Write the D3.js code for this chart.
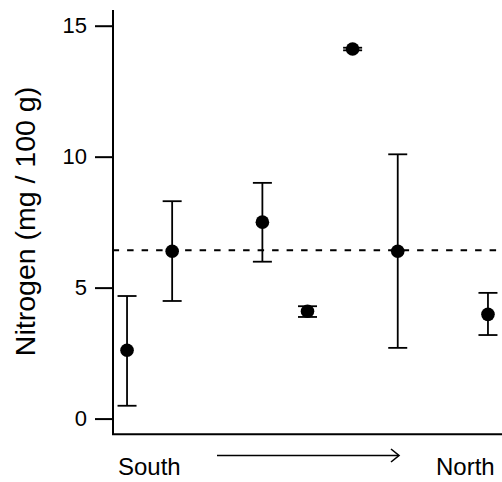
<!DOCTYPE html>
<html>
<head>
<meta charset="utf-8">
<script src="https://cdn.jsdelivr.net/npm/d3@7"></script>
<style>
  html, body { margin: 0; padding: 0; background: #fff; }
  svg { display: block; font-family: "Liberation Sans", Arial, Helvetica, sans-serif; }
</style>
</head>
<body>
<svg id="chart" width="502" height="482"></svg>
<script>
// Data
const sites = [1, 2, 4, 5, 6, 7, 9];
const means = [2.61, 6.39, 7.50, 4.10, 14.11, 6.39, 3.98];
const lower = [0.49, 4.49, 5.99, 3.88, 14.06, 2.70, 3.19];
const upper = [4.68, 8.30, 9.00, 4.29, 14.16, 10.09, 4.80];
const refValue = 6.43;
const yTicks = [0, 5, 10, 15];
const yLabel = "Nitrogen (mg / 100 g)";
const xLeftLabel = "South";
const xRightLabel = "North";

const svg = d3.select("#chart");

const x = d3.scaleLinear().domain([0.68, 9.32]).range([112.6, 502.4]);
const y = d3.scaleLinear().domain([-0.6, 15.6]).range([434.3, 10]);

const black = "#000";

// Reference dashed line
svg.append("line")
  .attr("x1", x(0.68)).attr("x2", 502)
  .attr("y1", y(refValue)).attr("y2", y(refValue))
  .attr("stroke", black).attr("stroke-width", 2)
  .attr("stroke-dasharray", "6.5,8");

// Error bars
const g = svg.append("g");
const capHalf = 9.5;
sites.forEach((s, i) => {
  const cx = x(s);
  g.append("line").attr("x1", cx).attr("x2", cx)
    .attr("y1", y(lower[i])).attr("y2", y(upper[i]))
    .attr("stroke", black).attr("stroke-width", 1.8);
  [lower[i], upper[i]].forEach(v => {
    g.append("line").attr("x1", cx - capHalf).attr("x2", cx + capHalf)
      .attr("y1", y(v)).attr("y2", y(v))
      .attr("stroke", black).attr("stroke-width", 1.8);
  });
  g.append("circle").attr("cx", cx).attr("cy", y(means[i])).attr("r", 6.8).attr("fill", black);
});

// Axis frame (left & bottom)
svg.append("line").attr("x1", 113).attr("x2", 113).attr("y1", 10).attr("y2", 434.3)
  .attr("stroke", black).attr("stroke-width", 2);
svg.append("line").attr("x1", 112).attr("x2", 502).attr("y1", 434.3).attr("y2", 434.3)
  .attr("stroke", black).attr("stroke-width", 2);

// Y axis ticks via d3 axis
const yAxis = d3.axisLeft(y).tickValues(yTicks).tickSize(18).tickPadding(8).tickFormat(d3.format("d"));
const ya = svg.append("g").attr("transform", "translate(113,0)").call(yAxis);
ya.select(".domain").remove();
ya.selectAll(".tick line").attr("stroke", black).attr("stroke-width", 2);
ya.selectAll(".tick text").attr("fill", black).style("font-size", "22px")
  .style("font-family", '"Liberation Sans", Arial, sans-serif');

// Y label
svg.append("text")
  .attr("transform", "translate(35,221.5) rotate(-90)")
  .attr("text-anchor", "middle")
  .style("font-size", "28.5px")
  .attr("fill", black)
  .text(yLabel);

// South / North labels
svg.append("text").attr("x", 118).attr("y", 475).style("font-size", "24px").attr("fill", black).text(xLeftLabel);
svg.append("text").attr("x", 436).attr("y", 475).style("font-size", "24px").attr("fill", black).text(xRightLabel);

// Arrow
svg.append("line").attr("x1", 217).attr("x2", 398.5).attr("y1", 455.5).attr("y2", 455.5)
  .attr("stroke", black).attr("stroke-width", 1.6);
svg.append("path").attr("d", "M391,449 L399,455.5 L391,462")
  .attr("fill", "none").attr("stroke", black).attr("stroke-width", 1.6);
</script>
</body>
</html>
